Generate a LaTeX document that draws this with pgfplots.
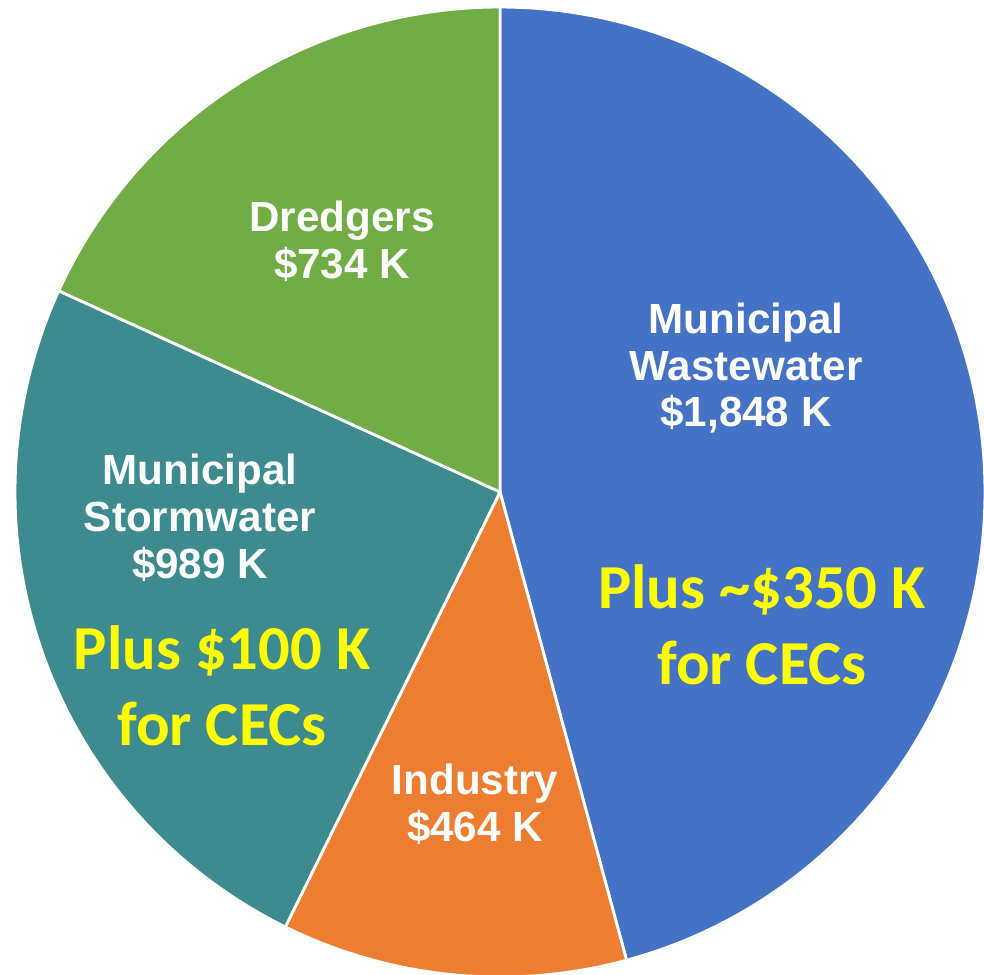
\documentclass[border=0pt]{standalone}
\usepackage{pgfplots}
\pgfplotsset{compat=1.18}
\usepackage{fontspec}
\setmainfont{Liberation Sans}
\newfontfamily\calib{Carlito}

\definecolor{cWaste}{HTML}{4472C4}
\definecolor{cInd}{HTML}{ED7D31}
\definecolor{cStorm}{HTML}{3E8B8F}
\definecolor{cDredge}{HTML}{70AD47}
\definecolor{cYel}{HTML}{FFFF00}

\tikzset{
  wl/.style={font=\bfseries\fontsize{12}{13.3}\selectfont, text=white, align=center},
  yl/.style={font=\calib\bfseries\fontsize{17.8}{21.5}\selectfont, text=cYel, align=center},
}

\begin{document}
\begin{tikzpicture}
% slice values (K$)
\pgfmathsetmacro\vA{1848}
\pgfmathsetmacro\vB{464}
\pgfmathsetmacro\vC{989}
\pgfmathsetmacro\vD{734}
\pgfmathsetmacro\tot{\vA+\vB+\vC+\vD}
\pgfmathsetmacro\aA{90}
\pgfmathsetmacro\aB{\aA-360*(\vA/\tot)}
\pgfmathsetmacro\aC{\aB-360*(\vB/\tot)}
\pgfmathsetmacro\aD{\aC-360*(\vC/\tot)}
\pgfmathsetmacro\aE{\aD-360*(\vD/\tot)}
\begin{axis}[
    hide axis,
    scale only axis,
    width=9.84cm, height=9.74cm,
    xmin=-500, xmax=484,
    ymin=-482, ymax=492,
    clip=true,
    every axis plot/.append style={draw=white, line width=0.8pt, data cs=polar, samples=120, line join=round},
  ]
  \addplot[fill=cWaste, domain=\aA:\aB] ({x},{485}) -- (axis cs:0,0) -- cycle;
  \addplot[fill=cInd, domain=\aB:\aC] ({x},{485}) -- (axis cs:0,0) -- cycle;
  \addplot[fill=cStorm, domain=\aC:\aD] ({x},{485}) -- (axis cs:0,0) -- cycle;
  \addplot[fill=cDredge, domain=\aD:\aE] ({x},{485}) -- (axis cs:0,0) -- cycle;

  \node[wl] at (axis cs:246,124) {Municipal\\Wastewater\\\$1,848 K};
  \node[yl] at (axis cs:262,-133) {Plus \char`\~\$350 K\\for CECs};
  \node[wl] at (axis cs:-300,-26) {Municipal\\Stormwater\\\$989 K};
  \node[yl] at (axis cs:-278,-194) {Plus \$100 K\\for CECs};
  \node[wl] at (axis cs:-158,251) {Dredgers\\\$734 K};
  \node[wl] at (axis cs:-25,-312) {Industry\\\$464 K};
\end{axis}
\pgfresetboundingbox
\path[use as bounding box] (current axis.south west) rectangle (current axis.north east);
\end{tikzpicture}
\end{document}
